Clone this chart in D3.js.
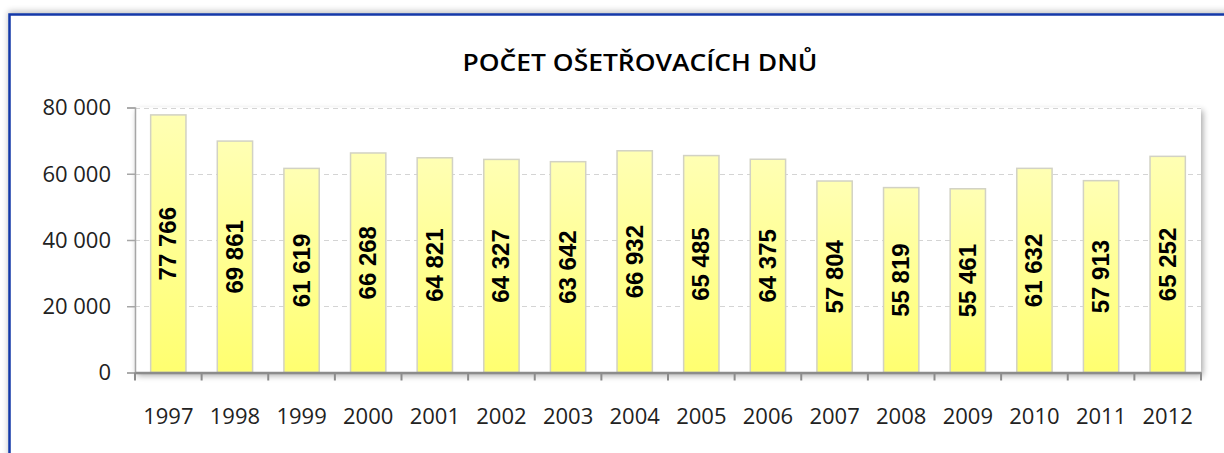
<!DOCTYPE html>
<html><head><meta charset="utf-8">
<script src="https://cdn.jsdelivr.net/npm/d3@7"></script>
<style>body{margin:0;background:#fff;}svg{display:block;}</style>
</head><body>
<svg id="c" width="1224" height="453"></svg>
<script>
const categories = ["1997","1998","1999","2000","2001","2002","2003","2004","2005","2006","2007","2008","2009","2010","2011","2012"];
const values = [77766,69861,61619,66268,64821,64327,63642,66932,65485,64375,57804,55819,55461,61632,57913,65252];
const yTicks = [0,20000,40000,60000,80000];
const title = "POČET OŠETŘOVACÍCH DNŮ";

const svg = d3.select("#c");
const defs = svg.append("defs");
const g1 = defs.append("linearGradient").attr("id","barg").attr("x1",0).attr("y1",0).attr("x2",0).attr("y2",1);
g1.append("stop").attr("offset","0%").attr("stop-color","#ffffb4");
g1.append("stop").attr("offset","100%").attr("stop-color","#ffff70");
const fs = defs.append("filter").attr("id","sh").attr("x","-5%").attr("y","-5%").attr("width","110%").attr("height","120%");
fs.append("feGaussianBlur").attr("in","SourceAlpha").attr("stdDeviation",3);
fs.append("feOffset").attr("dx",2).attr("dy",3).attr("result","b");
fs.append("feComponentTransfer").append("feFuncA").attr("type","linear").attr("slope",0.35);
const fm = fs.append("feMerge"); fm.append("feMergeNode"); fm.append("feMergeNode").attr("in","SourceGraphic");

// outer frame
const ff = defs.append("filter").attr("id","fsh").attr("x","-5%").attr("y","-10%").attr("width","110%").attr("height","120%");
ff.append("feGaussianBlur").attr("in","SourceAlpha").attr("stdDeviation",3);
ff.append("feOffset").attr("dx",0).attr("dy",-2).attr("result","b");
ff.append("feComponentTransfer").append("feFuncA").attr("type","linear").attr("slope",0.25);
const fm2 = ff.append("feMerge"); fm2.append("feMergeNode"); fm2.append("feMergeNode").attr("in","SourceGraphic");
svg.append("rect").attr("x",9.5).attr("y",14.5).attr("width",1230).attr("height",460)
  .attr("fill","#fff").attr("stroke","#1538a8").attr("stroke-width",2.5).attr("filter","url(#fsh)");

const L = 135, R = 1201, T = 107.5, B = 372.5;
const x = d3.scaleBand().domain(categories).range([L,R]).paddingInner(0.47).paddingOuter(0.235);
const y = d3.scaleLinear().domain([0,80000]).range([B,T]);

// plot area with shadow
svg.append("rect").attr("x",L).attr("y",T).attr("width",R-L).attr("height",B-T)
  .attr("fill","#fff").attr("filter","url(#sh)");

// gridlines
svg.append("g").selectAll("line").data(yTicks.filter(d=>d>0)).join("line")
  .attr("x1",L).attr("x2",R).attr("y1",d=>Math.round(y(d))+0.5).attr("y2",d=>Math.round(y(d))+0.5)
  .attr("stroke","#d4d4d4").attr("stroke-width",1).attr("stroke-dasharray","5,4");

// title
svg.append("text").attr("x",640).attr("y",71).attr("text-anchor","middle")
  .attr("font-family","'Open Sans'").attr("font-weight",600).attr("font-size",23.5)
  .attr("textLength",355).attr("lengthAdjust","spacingAndGlyphs")
  .attr("fill","#000").text(title);

// bars
svg.append("g").selectAll("rect").data(values).join("rect")
  .attr("x",(d,i)=>x(categories[i])).attr("width",x.bandwidth())
  .attr("y",d=>y(d)).attr("height",d=>B-y(d))
  .attr("fill","url(#barg)").attr("stroke","#d2d2c4").attr("stroke-width",1.5);

// y axis
const ya = svg.append("g").attr("transform",`translate(${L},0)`)
  .call(d3.axisLeft(y).tickValues(yTicks).tickSize(8).tickFormat(d => d3.format(",")(d).replace(/,/g," ")));
ya.select(".domain").attr("stroke","#a6a6a6").attr("stroke-width",1.5);
ya.selectAll(".tick line").attr("stroke","#a6a6a6").attr("stroke-width",1.5);
ya.selectAll(".tick text").attr("font-family","'Open Sans'").attr("font-size",22).attr("fill","#222").attr("x",-24).attr("dy","0.34em");

// x axis
const xa = svg.append("g").attr("transform",`translate(0,${B})`)
  .call(d3.axisBottom(x).tickSize(0).tickSizeOuter(0));
xa.select(".domain").attr("stroke","#8c8c8c").attr("stroke-width",2.5);
xa.selectAll(".tick text").attr("font-family","'Open Sans'").attr("font-size",22).attr("fill","#222").attr("y",40).attr("dy","0.5em");
const bounds = categories.map((c,i)=>L + i*(R-L)/categories.length).concat([R]);
xa.append("g").selectAll("line").data(bounds).join("line")
  .attr("x1",d=>d).attr("x2",d=>d).attr("y1",0).attr("y2",8)
  .attr("stroke","#8c8c8c").attr("stroke-width",2);

// value labels
svg.append("g").selectAll("text").data(values).join("text")
  .attr("transform",(d,i)=>`translate(${x(categories[i])+x.bandwidth()/2+8},${y(d/2)}) rotate(-90)`)
  .attr("text-anchor","middle")
  .attr("font-family","'Liberation Sans', Arial").attr("font-weight","bold").attr("font-size",24)
  .attr("fill","#000").text(d => d3.format(",")(d).replace(/,/g," "));
</script>
</body></html>
